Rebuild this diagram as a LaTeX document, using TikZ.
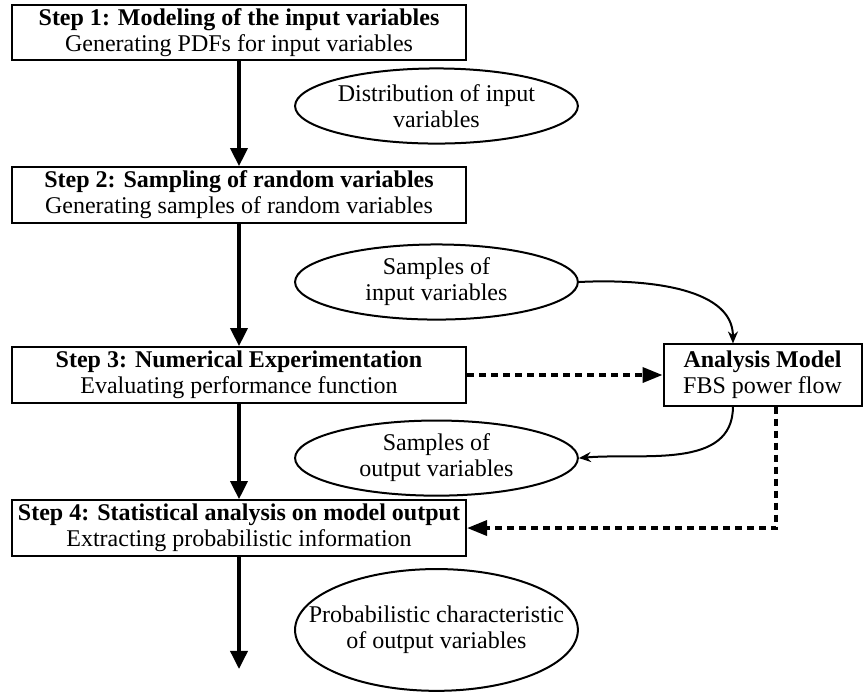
\documentclass[tikz,border=0pt]{standalone}
\usepackage{fontspec}
\setmainfont{Liberation Serif}
\usepackage{tikz}
\usetikzlibrary{arrows.meta,positioning,shapes.geometric}

\begin{document}
\begin{tikzpicture}[
  stepbox/.style={draw, line width=1pt, minimum width=7.98cm, minimum height=0.98cm,
                  inner sep=1pt, align=center, font=\fontsize{12}{13}\selectfont},
  modelbox/.style={draw, line width=1pt, minimum width=3.48cm, minimum height=1.05cm,
                   align=center, font=\fontsize{12}{13}\selectfont},
  ellip/.style={draw, ellipse, line width=1pt, minimum width=4.97cm, minimum height=1.32cm,
                inner sep=0pt, align=center, font=\fontsize{12}{13}\selectfont},
  arrow/.style={-{Triangle[length=9pt, width=8.5pt]}, line width=1.8pt},
  dasharrow/.style={-{Triangle[length=10pt, width=7.5pt]}, line width=1.8pt, dash pattern=on 3.5pt off 2.5pt},
  curvearrow/.style={-{Stealth[length=6pt, width=5pt]}, line width=1pt}
]
\useasboundingbox (0,0) rectangle (15.183,-12.196);

% Steps
\node[stepbox] (step1) at (4.20, -0.571) {\textbf{Step 1: Modeling of the input variables}\\ Generating PDFs for input variables};
\node[stepbox] (step2) at (4.20, -3.427) {\textbf{Step 2: Sampling of random variables}\\ Generating samples of random variables};
\node[stepbox] (step3) at (4.20, -6.590) {\textbf{Step 3: Numerical Experimentation}\\ Evaluating performance function};
\node[stepbox] (step4) at (4.20, -9.279) {\textbf{Step 4: Statistical analysis on model output}\\ Extracting probabilistic information};
\coordinate (out) at (4.20, -11.756);

% Data ellipses
\node[ellip] (distin) at (7.67, -1.863) {Distribution of input\\ variables};
\node[ellip] (sampin) at (7.67, -4.956) {Samples of\\ input variables};
\node[ellip] (sampout) at (7.67, -8.05) {Samples of\\ output variables};
\node[ellip, minimum height=2.14cm, inner xsep=-0.57cm] (probout) at (7.67, -11.07) {Probabilistic characteristic\\ of output variables};

% Analysis model
\node[modelbox] (model) at (13.40, -6.59) {\textbf{Analysis Model}\\ FBS power flow};

% Main flow
\draw[arrow] (step1) -- (step2);
\draw[arrow] (step2) -- (step3);
\draw[arrow] (step3) -- (step4);
\draw[arrow] (step4) -- (out);

% Model links
\draw[dasharrow] (step3) -- (model);
\draw[curvearrow] (sampin.east) to[out=3, in=90, looseness=0.9] ([xshift=-0.52cm]model.north);
\draw[curvearrow] ([xshift=-0.52cm]model.south) to[out=-90, in=5] (sampout.east);
\draw[dasharrow] ([xshift=0.24cm]model.south) |- (step4.east);

\end{tikzpicture}
\end{document}
